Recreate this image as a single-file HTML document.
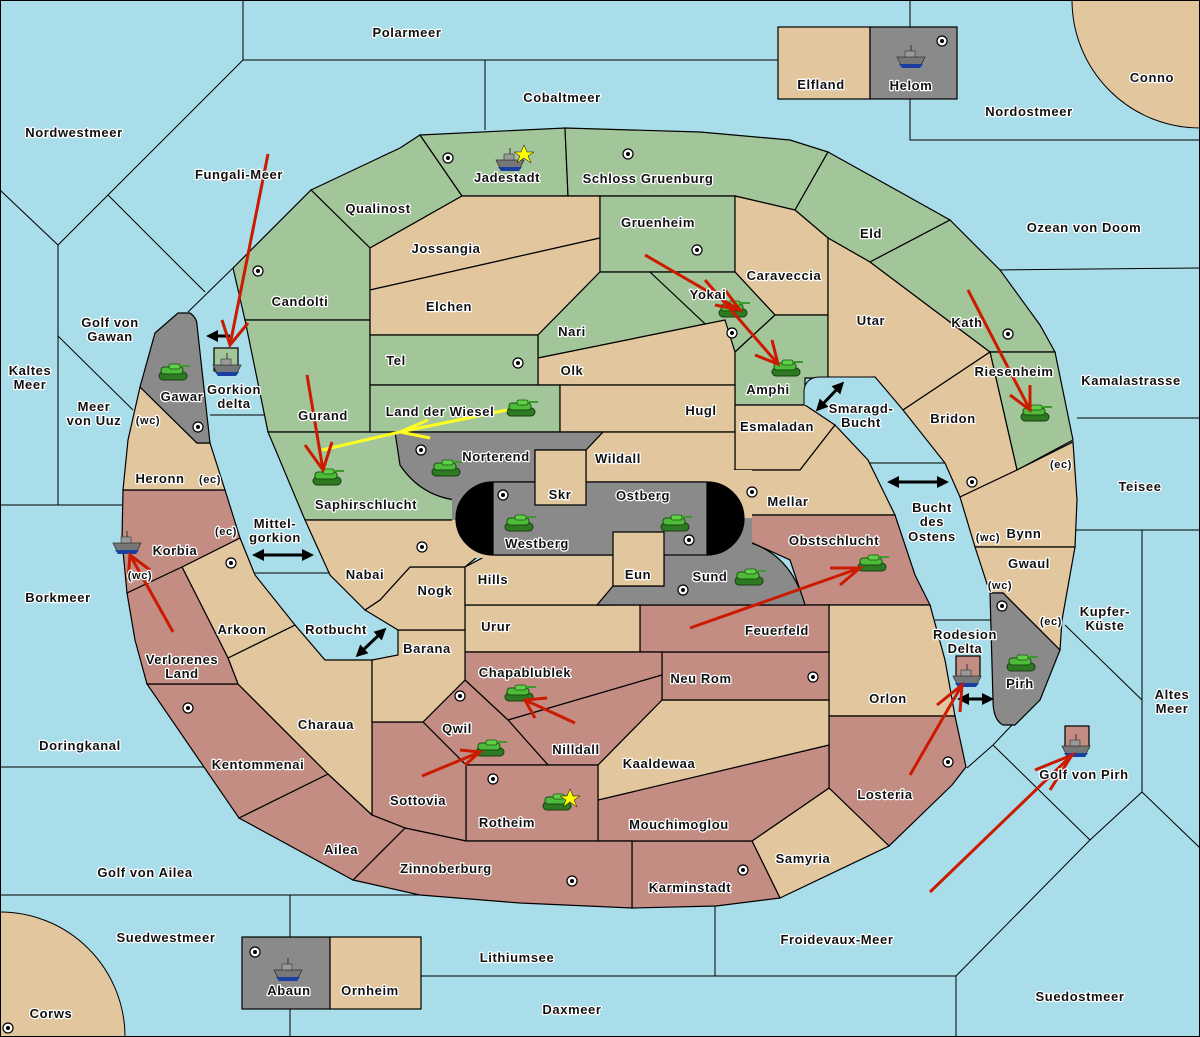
<!DOCTYPE html>
<html><head><meta charset="utf-8"><style>
html,body{margin:0;padding:0;background:#a9dde9;width:1200px;height:1037px;overflow:hidden}
svg{display:block}
text{font-family:"Liberation Sans","DejaVu Sans",sans-serif;font-weight:bold;font-size:13px;fill:#111;stroke:#fff;stroke-width:2.5px;paint-order:stroke;stroke-linejoin:round;text-anchor:middle;letter-spacing:0.6px}
.s{font-size:11px}
.l polygon,.l path,.l rect{stroke:#000;stroke-width:1.2}
.g{fill:#a3c59a}.t{fill:#e1c69e}.r{fill:#c38d84}.y{fill:#8a8a8a}
.sl{stroke:#000;stroke-width:1;fill:none}
</style></head><body>
<svg width="1200" height="1037" viewBox="0 0 1200 1037" xmlns="http://www.w3.org/2000/svg" style="position:absolute;left:0;top:0">
<defs>
<g id="tank"><rect x="-14" y="-2" width="28" height="8" rx="4" fill="#2d7a22" stroke="#1a3d12" stroke-width="1"/><rect x="-12" y="-7" width="22" height="7" rx="3" fill="#4cbc3a" stroke="#1a4d12" stroke-width="1"/><rect x="-4" y="-10" width="11" height="5" rx="2" fill="#5fd048" stroke="#1a4d12" stroke-width="0.8"/><rect x="7" y="-9" width="10" height="2" fill="#3a9a2a"/></g>
<g id="ship"><path d="M-14,0 L14,0 L10,8 L-10,8 Z" fill="#777" stroke="#333" stroke-width="0.8"/><rect x="-6" y="-6" width="10" height="6" fill="#999" stroke="#333" stroke-width="0.6"/><line x1="0" y1="-12" x2="0" y2="-6" stroke="#333"/><path d="M-12,7 L12,7 L9,11 L-9,11Z" fill="#1a3fa0"/></g>
<g id="dot"><circle r="5" fill="#fff" stroke="#000" stroke-width="1.2"/><circle r="2" fill="#000"/></g>
<marker id="ah" viewBox="0 0 10 10" refX="5" refY="5" markerWidth="4" markerHeight="4" orient="auto-start-reverse"><path d="M0,0 L10,5 L0,10 Z" fill="#000"/></marker>
</defs>

<circle cx="1200" cy="0" r="128" fill="#e1c69e" stroke="#000"/>
<circle cx="0" cy="1037" r="125" fill="#e1c69e" stroke="#000"/>

<g class="sl">
<polyline points="243,0 243,60 910,60"/>
<line x1="485" y1="60" x2="485" y2="130"/>
<polyline points="910,0 910,140 1200,140"/>
<polyline points="243,60 58,245 0,190"/>
<polyline points="58,245 58,505 0,505"/>
<line x1="108" y1="195" x2="205" y2="292"/>
<polyline points="58,336 133,410"/>
<line x1="58" y1="505" x2="122" y2="505"/>
<polyline points="233,268 188,312"/>
<line x1="210" y1="415" x2="265" y2="415"/>
<line x1="255" y1="573" x2="330" y2="573"/>
<line x1="0" y1="767" x2="205" y2="767"/>
<polyline points="0,895 290,895 420,895"/>
<line x1="290" y1="895" x2="290" y2="1037"/>
<polyline points="421,976 715,976 715,906"/>
<polyline points="715,976 956,976 1090,840 1142,792 1200,848"/>
<line x1="956" y1="976" x2="956" y2="1037"/>
<line x1="1142" y1="792" x2="1142" y2="530"/>
<line x1="1142" y1="530" x2="1200" y2="530"/>
<line x1="1065" y1="625" x2="1142" y2="700"/>
<polyline points="1012,725 993,745 967,768"/>
<line x1="993" y1="745" x2="1090" y2="840"/>
<line x1="1075" y1="530" x2="1142" y2="530"/>
<line x1="1077" y1="418" x2="1200" y2="418"/>
<line x1="995" y1="270" x2="1200" y2="268"/>
<line x1="868" y1="463" x2="945" y2="463"/>
<line x1="935" y1="620" x2="993" y2="620"/>
</g>
<rect x="0.5" y="0.5" width="1199" height="1036" fill="none" stroke="#000"/>

<g class="l">
<polygon class="g" points="311,190 400,148 420,135 462,196 370,248"/>
<polygon class="g" points="420,135 565,128 568,196 462,196"/>
<polygon class="g" points="565,128 700,132 790,140 828,152 795,210 735,196 568,196"/>
<polygon class="g" points="233,268 311,190 370,248 370,320 245,320"/>
<polygon class="g" points="245,320 370,320 370,432 268,432"/>
<polygon class="g" points="268,432 395,432 400,455 420,485 455,500 455,520 305,520"/>
<polygon class="t" points="370,248 462,196 600,196 600,238 370,290"/>
<polygon class="t" points="370,290 600,238 600,272 538,335 370,335"/>
<polygon class="g" points="600,196 735,196 735,272 600,272"/>
<polygon class="g" points="828,152 900,192 950,220 870,262 828,238 795,210"/>
<polygon class="t" points="735,196 795,210 828,238 828,315 775,315 735,272"/>
<polygon class="g" points="538,335 600,272 650,272 725,320 538,358"/>
<polygon class="g" points="650,272 735,272 775,315 735,352"/>
<polygon class="t" points="538,358 725,320 735,352 735,385 538,385"/>
<polygon class="g" points="735,352 775,315 828,315 828,378 805,378 805,405 735,405"/>
<polygon class="g" points="370,335 538,335 538,385 370,385"/>
<polygon class="g" points="370,385 560,385 560,432 370,432"/>
<polygon class="t" points="560,385 735,385 735,432 560,432"/>
<polygon class="t" points="828,238 870,262 990,352 903,410 875,377 828,378"/>
<polygon class="g" points="870,262 950,220 1000,270 1040,325 1055,352 990,352"/>
<polygon class="g" points="990,352 1055,352 1073,440 1017,470"/>
<polygon class="t" points="903,410 990,352 1017,470 960,497 945,463"/>
<polygon class="t" points="960,497 1017,470 1073,442 1077,500 1075,547 975,547"/>
<polygon class="t" points="975,547 1075,547 1062,620 1060,650 1003,593 990,593"/>
<path class="y" d="M990,593 L1003,593 L1060,650 L1040,700 L1015,725 L1003,725 Q993,720 993,700 Z"/>
<polygon class="t" points="735,405 805,405 835,425 800,470 735,470"/>
<polygon class="t" points="603,432 735,432 735,470 707,482 586,482 586,450"/>
<polygon class="t" points="735,470 800,470 835,425 868,460 895,515 742,515 746,482"/>
<polygon class="r" points="742,515 895,515 915,575 930,605 805,605 790,560 746,540"/>
<polygon class="t" points="829,605 930,605 945,660 955,716 829,716"/>
<polygon class="r" points="829,716 955,716 966,767 952,785 889,846 829,788"/>
<polygon class="t" points="752,841 829,788 889,846 780,898"/>
<polygon class="r" points="632,841 752,841 780,898 716,906 632,908"/>
<polygon class="r" points="598,800 829,745 829,788 752,841 598,841"/>
<polygon class="t" points="662,700 829,700 829,745 598,800 598,765"/>
<polygon class="r" points="662,652 829,652 829,700 662,700"/>
<polygon class="r" points="640,605 829,605 829,652 640,652"/>
<polygon class="t" points="465,605 640,605 640,652 465,652"/>
<polygon class="r" points="465,652 662,652 662,675 508,720 465,680"/>
<polygon class="r" points="508,720 662,675 662,700 598,765 548,765"/>
<polygon class="r" points="423,722 465,680 508,720 548,765 466,765"/>
<polygon class="r" points="466,765 598,765 598,841 466,841"/>
<polygon class="r" points="372,722 423,722 466,765 466,841 405,828 372,815"/>
<polygon class="r" points="405,828 466,841 632,841 632,908 520,903 420,895 353,880"/>
<polygon class="r" points="239,818 328,774 372,815 405,828 353,880"/>
<polygon class="r" points="147,684 238,684 328,774 239,818"/>
<polygon class="t" points="228,658 295,625 325,660 372,660 372,815 328,774 238,684"/>
<polygon class="t" points="372,660 398,655 398,630 465,630 465,680 423,722 372,722"/>
<polygon class="t" points="410,567 465,567 465,630 398,630 365,610 380,600"/>
<polygon class="t" points="305,520 455,520 470,540 488,548 465,567 410,567 380,600 365,610 330,575"/>
<polygon class="t" points="465,567 488,555 613,555 613,605 465,605"/>
<path class="y" d="M597,605 L613,586 L664,586 L664,555 L740,540 Q790,550 805,605 Z"/>
<path class="y" d="M395,432 L603,432 L586,450 L535,450 L535,482 L470,482 L455,500 Q420,495 400,465 Z"/>
</g>
<rect x="452" y="478" width="42" height="42" fill="#8a8a8a"/>
<rect x="452" y="520" width="42" height="38" fill="#e1c69e"/>
<rect x="706" y="470" width="46" height="48" fill="#e1c69e"/>
<rect x="706" y="518" width="46" height="40" fill="#8a8a8a"/>
<g class="l">
<path d="M493,482 A37,36.5 0 0 0 493,555 Z" fill="#000"/>
<path d="M707,482 A37,36.5 0 0 1 707,555 Z" fill="#000"/>
<rect x="493" y="482" width="214" height="73" class="y"/>
<polygon class="t" points="535,450 586,450 586,505 535,505"/>
<polygon class="t" points="613,532 664,532 664,586 613,586"/>
<polygon class="t" points="182,567 240,538 255,575 295,625 228,658"/>
<polygon class="r" points="123,490 225,490 240,538 182,567 127,593 122,540"/>
<polygon class="r" points="127,593 182,567 228,658 238,684 147,684 135,640"/>
<polygon class="t" points="140,387 197,443 210,443 225,490 123,490 128,440"/>
<path class="y" d="M155,333 L178,313 L190,313 Q197,318 197,325 L210,443 L197,443 L140,387 Z"/>
<rect x="778" y="27" width="92" height="72" class="t"/>
<rect x="870" y="27" width="87" height="72" class="y"/>
<rect x="242" y="937" width="88" height="72" class="y"/>
<rect x="330" y="937" width="91" height="72" class="t"/>
<rect x="214" y="348" width="24" height="23" class="g"/>
<rect x="956" y="656" width="24" height="22" class="r"/>
<rect x="1065" y="726" width="24" height="22" class="r"/>
</g>
<path d="M804,405 L804,390 Q806,377 820,377 L875,377 L903,410" fill="#a9dde9" stroke="#000"/>

<use href="#dot" x="448" y="158"/><use href="#dot" x="628" y="154"/><use href="#dot" x="258" y="271"/>
<use href="#dot" x="697" y="250"/><use href="#dot" x="732" y="333"/><use href="#dot" x="518" y="363"/>
<use href="#dot" x="1008" y="334"/><use href="#dot" x="421" y="450"/><use href="#dot" x="503" y="495"/>
<use href="#dot" x="752" y="492"/><use href="#dot" x="689" y="540"/><use href="#dot" x="422" y="547"/>
<use href="#dot" x="683" y="590"/><use href="#dot" x="972" y="482"/><use href="#dot" x="1002" y="606"/>
<use href="#dot" x="198" y="427"/><use href="#dot" x="231" y="563"/><use href="#dot" x="188" y="708"/>
<use href="#dot" x="460" y="696"/><use href="#dot" x="493" y="779"/><use href="#dot" x="813" y="677"/>
<use href="#dot" x="948" y="762"/><use href="#dot" x="572" y="881"/><use href="#dot" x="743" y="870"/>
<use href="#dot" x="942" y="41"/><use href="#dot" x="255" y="952"/><use href="#dot" x="8" y="1028"/>

<use href="#tank" x="173" y="374"/><use href="#tank" x="327" y="479"/><use href="#tank" x="521" y="410"/>
<use href="#tank" x="446" y="470"/><use href="#tank" x="519" y="525"/><use href="#tank" x="675" y="525"/>
<use href="#tank" x="749" y="579"/><use href="#tank" x="872" y="565"/><use href="#tank" x="733" y="311"/>
<use href="#tank" x="786" y="370"/><use href="#tank" x="1035" y="415"/><use href="#tank" x="1021" y="665"/>
<use href="#tank" x="519" y="695"/><use href="#tank" x="490" y="750"/><use href="#tank" x="557" y="804"/>
<use href="#ship" x="510" y="160"/><use href="#ship" x="227" y="365"/><use href="#ship" x="127" y="543"/>
<use href="#ship" x="911" y="57"/><use href="#ship" x="288" y="970"/><use href="#ship" x="967" y="676"/><use href="#ship" x="1076" y="746"/>
<polygon points="524,145 527,152 534,152 528,156 531,163 524,158 517,163 520,156 514,152 521,152" fill="#ff0" stroke="#000" stroke-width="0.5"/>
<polygon points="570,789 573,796 580,796 574,800 577,807 570,802 563,807 566,800 560,796 567,796" fill="#ff0" stroke="#000" stroke-width="0.5"/>

<g stroke="#000" stroke-width="3" marker-start="url(#ah)" marker-end="url(#ah)">
<line x1="258" y1="555" x2="308" y2="555"/>
<line x1="360" y1="653" x2="382" y2="632"/>
<line x1="820" y1="407" x2="840" y2="386"/>
<line x1="893" y1="482" x2="943" y2="482"/>
<line x1="963" y1="699" x2="988" y2="699"/>
</g>
<line x1="230" y1="336" x2="212" y2="336" stroke="#000" stroke-width="3" marker-end="url(#ah)"/>

<g stroke="#ffff22" stroke-width="3" fill="none"><polyline points="507,410 400,432 322,450"/><polyline points="428,420 400,432 430,438"/></g>

<g stroke="#cc1a00" stroke-width="3" fill="none">
<line x1="268" y1="154" x2="230" y2="345"/><polyline points="222,320 230,345 248,323"/>
<line x1="307" y1="375" x2="323" y2="470"/><polyline points="305,445 323,470 332,442"/>
<line x1="645" y1="255" x2="740" y2="310"/><polyline points="715,305 740,310 725,290"/>
<line x1="705" y1="280" x2="778" y2="364"/><polyline points="755,355 778,364 772,340"/>
<line x1="968" y1="290" x2="1030" y2="410"/><polyline points="1010,395 1030,410 1030,385"/>
<line x1="690" y1="628" x2="860" y2="568"/><polyline points="830,568 860,568 840,585"/>
<line x1="173" y1="632" x2="130" y2="555"/><polyline points="128,580 130,555 150,570"/>
<line x1="575" y1="723" x2="525" y2="700"/><polyline points="535,718 525,700 547,698"/>
<line x1="422" y1="776" x2="480" y2="752"/><polyline points="460,750 480,752 465,765"/>
<line x1="910" y1="775" x2="962" y2="685"/><polyline points="937,705 962,685 960,712"/>
<line x1="930" y1="892" x2="1072" y2="755"/><polyline points="1035,770 1072,755 1050,790"/>
</g>

<text x="407" y="37">Polarmeer</text><text x="562" y="102">Cobaltmeer</text>
<text x="821" y="89">Elfland</text><text x="911" y="90">Helom</text><text x="1152" y="82">Conno</text>
<text x="74" y="137">Nordwestmeer</text><text x="1029" y="116">Nordostmeer</text>
<text x="239" y="179">Fungali-Meer</text><text x="507" y="182">Jadestadt</text><text x="648" y="183">Schloss Gruenburg</text>
<text x="378" y="213">Qualinost</text><text x="658" y="227">Gruenheim</text><text x="871" y="238">Eld</text>
<text x="1084" y="232">Ozean von Doom</text><text x="446" y="253">Jossangia</text><text x="784" y="280">Caraveccia</text>
<text x="708" y="299">Yokai</text><text x="300" y="306">Candolti</text><text x="449" y="311">Elchen</text>
<text x="871" y="325">Utar</text><text x="967" y="327">Kath</text><text x="110" y="327">Golf von</text><text x="110" y="341">Gawan</text>
<text x="572" y="336">Nari</text><text x="396" y="365">Tel</text><text x="572" y="375">Olk</text>
<text x="30" y="375">Kaltes</text><text x="30" y="389">Meer</text>
<text x="1014" y="376">Riesenheim</text><text x="1131" y="385">Kamalastrasse</text>
<text x="768" y="394">Amphi</text><text x="234" y="394">Gorkion</text><text x="234" y="408">delta</text>
<text x="182" y="401">Gawar</text><text x="94" y="411">Meer</text><text x="94" y="425">von Uuz</text>
<text x="440" y="416">Land der Wiesel</text><text x="701" y="415">Hugl</text><text x="861" y="413">Smaragd-</text><text x="861" y="427">Bucht</text>
<text x="323" y="420">Gurand</text><text x="953" y="423">Bridon</text><text x="777" y="431">Esmaladan</text>
<text x="160" y="483">Heronn</text><text x="496" y="461">Norterend</text><text x="618" y="463">Wildall</text>
<text x="1140" y="491">Teisee</text><text x="560" y="499">Skr</text><text x="643" y="500">Ostberg</text>
<text x="788" y="506">Mellar</text><text x="366" y="509">Saphirschlucht</text><text x="932" y="512">Bucht</text>
<text x="932" y="526">des</text><text x="932" y="541">Ostens</text><text x="275" y="528">Mittel-</text><text x="275" y="542">gorkion</text>
<text x="1024" y="538">Bynn</text><text x="537" y="548">Westberg</text><text x="834" y="545">Obstschlucht</text>
<text x="175" y="555">Korbia</text><text x="1029" y="568">Gwaul</text><text x="365" y="579">Nabai</text>
<text x="493" y="584">Hills</text><text x="638" y="579">Eun</text><text x="710" y="581">Sund</text><text x="435" y="595">Nogk</text>
<text x="58" y="602">Borkmeer</text><text x="1105" y="616">Kupfer-</text><text x="1105" y="630">Küste</text>
<text x="496" y="631">Urur</text><text x="777" y="635">Feuerfeld</text><text x="242" y="634">Arkoon</text>
<text x="336" y="634">Rotbucht</text><text x="965" y="639">Rodesion</text><text x="965" y="653">Delta</text>
<text x="427" y="653">Barana</text><text x="182" y="664">Verlorenes</text><text x="182" y="678">Land</text>
<text x="525" y="677">Chapablublek</text><text x="701" y="683">Neu Rom</text><text x="1020" y="688">Pirh</text>
<text x="1172" y="699">Altes</text><text x="1172" y="713">Meer</text><text x="888" y="703">Orlon</text>
<text x="326" y="729">Charaua</text><text x="457" y="733">Qwil</text><text x="80" y="750">Doringkanal</text>
<text x="576" y="754">Nilldall</text><text x="659" y="768">Kaaldewaa</text><text x="258" y="769">Kentommenai</text>
<text x="1084" y="779">Golf von Pirh</text><text x="885" y="799">Losteria</text><text x="418" y="805">Sottovia</text>
<text x="507" y="827">Rotheim</text><text x="679" y="829">Mouchimoglou</text><text x="341" y="854">Ailea</text>
<text x="803" y="863">Samyria</text><text x="446" y="873">Zinnoberburg</text><text x="145" y="877">Golf von Ailea</text>
<text x="690" y="892">Karminstadt</text><text x="166" y="942">Suedwestmeer</text><text x="837" y="944">Froidevaux-Meer</text>
<text x="517" y="962">Lithiumsee</text><text x="289" y="995">Abaun</text><text x="370" y="995">Ornheim</text>
<text x="1080" y="1001">Suedostmeer</text><text x="572" y="1014">Daxmeer</text><text x="51" y="1018">Corws</text>
<text class="s" x="148" y="424">(wc)</text><text class="s" x="210" y="483">(ec)</text><text class="s" x="226" y="535">(ec)</text>
<text class="s" x="140" y="579">(wc)</text><text class="s" x="1061" y="468">(ec)</text><text class="s" x="988" y="541">(wc)</text>
<text class="s" x="1000" y="589">(wc)</text><text class="s" x="1051" y="625">(ec)</text>
</svg>
</body></html>
